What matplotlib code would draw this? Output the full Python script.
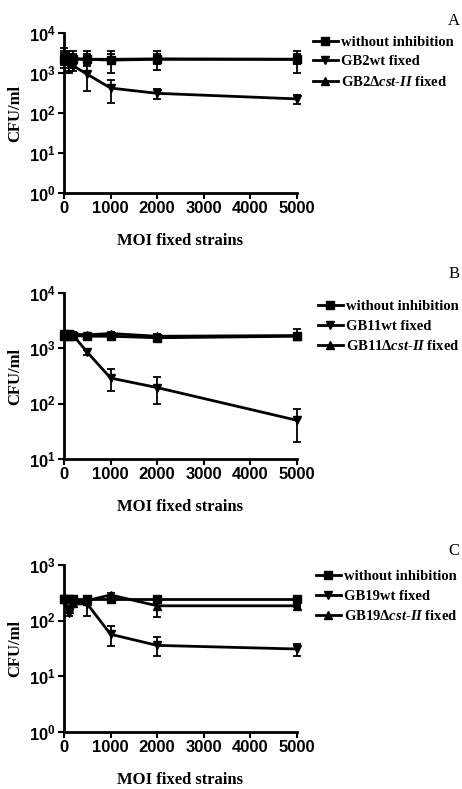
import matplotlib.pyplot as plt
import numpy as np

plt.rcParams['mathtext.fontset'] = 'custom'
plt.rcParams['mathtext.bf'] = 'Liberation Sans:bold'
plt.rcParams['mathtext.rm'] = 'Liberation Sans:bold'
plt.rcParams['mathtext.it'] = 'Liberation Serif:italic:bold'
plt.rcParams['mathtext.default'] = 'bf'

# MOI values (same for every panel)
moi = [0, 100, 200, 500, 1000, 2000, 5000]

# panel A (GB2)
a_wo = [2300, 2200, 2200, 2200, 2100, 2200, 2200]
a_wo_lo = [1300, 1100, 1300, 1500, 1000, 1200, 1000]
a_wo_hi = [4300, 3500, 3500, 3600, 3500, 3600, 3500]
a_wt = [2500, 1550, 1500, 930, 420, 310, 225]
a_wt_lo = [1600, 1000, 1100, 350, 180, 220, 170]
a_wt_hi = [3500, 2000, 2000, 2100, 650, 400, 280]
a_del = [2300, 2300, 2300, 2200, 2200, 2250, 2200]
a_del_lo = [1700, 1700, 1800, 1700, 1700, 1700, 1700]
a_del_hi = [3200, 3000, 3000, 3000, 3000, 3000, 3000]

# panel B (GB11)
b_wo = [1700, 1700, 1700, 1650, 1650, 1550, 1650]
b_wo_lo = [1500, 1500, 1500, 1500, 1500, 1400, 1400]
b_wo_hi = [1950, 1950, 1950, 1850, 1850, 1700, 2200]
b_wt = [1800, 1800, 1700, 850, 290, 195, 50]
b_wt_lo = [1600, 1600, 1500, 750, 170, 100, 20]
b_wt_hi = [2000, 2000, 1900, 950, 430, 300, 80]
b_del = [1750, 1850, 1800, 1750, 1850, 1650, 1700]
b_del_lo = [1600, 1700, 1650, 1600, 1700, 1500, 1550]
b_del_hi = [1900, 2000, 1950, 1900, 2000, 1800, 1850]

# panel C (GB19)
c_wo = [250, 250, 250, 250, 250, 250, 250]
c_wo_lo = [235, 235, 235, 235, 235, 235, 235]
c_wo_hi = [265, 265, 265, 265, 265, 265, 265]
c_wt = [250, 135, 200, 200, 57, 36, 31]
c_wt_lo = [230, 120, 180, 120, 35, 23, 23]
c_wt_hi = [270, 160, 220, 240, 80, 50, 38]
c_del = [250, 165, 210, 230, 290, 185, 185]
c_del_lo = [230, 145, 190, 210, 270, 117, 175]
c_del_hi = [270, 185, 230, 250, 310, 250, 195]

panels = [
    dict(letter='A', strain='GB2', ylim=(1, 1e4), exps=[0, 1, 2, 3, 4],
         data=[(a_wo, a_wo_lo, a_wo_hi), (a_wt, a_wt_lo, a_wt_hi), (a_del, a_del_lo, a_del_hi)],
         rect=[0.1385, 0.7554, 0.504, 0.2028], leg=(0.677, 0.955), let_y=0.973),
    dict(letter='B', strain='GB11', ylim=(10, 1e4), exps=[1, 2, 3, 4],
         data=[(b_wo, b_wo_lo, b_wo_hi), (b_wt, b_wt_lo, b_wt_hi), (b_del, b_del_lo, b_del_hi)],
         rect=[0.1385, 0.4183, 0.504, 0.2104], leg=(0.688, 0.620), let_y=0.653),
    dict(letter='C', strain='GB19', ylim=(1, 1e3), exps=[0, 1, 2, 3],
         data=[(c_wo, c_wo_lo, c_wo_hi), (c_wt, c_wt_lo, c_wt_hi), (c_del, c_del_lo, c_del_hi)],
         rect=[0.1385, 0.0722, 0.504, 0.2117], leg=(0.684, 0.278), let_y=0.302),
]

markers = ['s', 'v', '^']
serif_bold = dict(family='Liberation Serif', weight='bold')

fig = plt.figure(figsize=(4.62, 7.89), dpi=100)

for p in panels:
    ax = fig.add_axes(p['rect'])
    labels = ['without inhibition', p['strain'] + 'wt fixed',
              p['strain'] + r'Δ$\mathit{cst}$-$\mathit{II}$ fixed']
    handles = []
    for (y, lo, hi), m in zip(p['data'], markers):
        y = np.array(y, float)
        err = [y - np.array(lo), np.array(hi) - y]
        c = ax.errorbar(moi, y, yerr=err, color='black', lw=2, marker=m, ms=5.5,
                        capsize=3, elinewidth=1.3, capthick=1.3, clip_on=False)
        handles.append(c.lines[0])
    ax.set_yscale('log')
    ax.set_ylim(*p['ylim'])
    ax.set_xlim(0, 5000)
    ax.set_yticks([10.0 ** e for e in p['exps']])
    ax.set_yticklabels([r'$10^{%d}$' % e for e in p['exps']])
    ax.yaxis.set_minor_locator(plt.NullLocator())
    ax.set_xticks([0, 1000, 2000, 3000, 4000, 5000])
    ax.set_xticklabels(['0', '1000', '2000', '3000', '4000', '5000'],
                       family='Liberation Sans', weight='bold')
    for s in ['top', 'right']:
        ax.spines[s].set_visible(False)
    for s in ['left', 'bottom']:
        ax.spines[s].set_linewidth(2)
    ax.tick_params(direction='out', length=4, width=1.5, labelsize=12, pad=2)
    ax.set_ylabel('CFU/ml', fontsize=12, labelpad=4, **serif_bold)
    ax.set_xlabel('MOI fixed strains', fontsize=12, labelpad=12, **serif_bold)
    ax.legend(handles, labels, loc='upper left', bbox_to_anchor=p['leg'],
              bbox_transform=fig.transFigure, frameon=False, borderpad=0,
              borderaxespad=0, handlelength=1.7, handletextpad=0.25,
              labelspacing=0.45,
              prop=dict(family='Liberation Serif', weight='bold', size=10.5))
    fig.text(0.995, p['let_y'], p['letter'], family='Liberation Serif', fontsize=12,
             ha='right', va='center')

fig.savefig('out.png', dpi=100)
